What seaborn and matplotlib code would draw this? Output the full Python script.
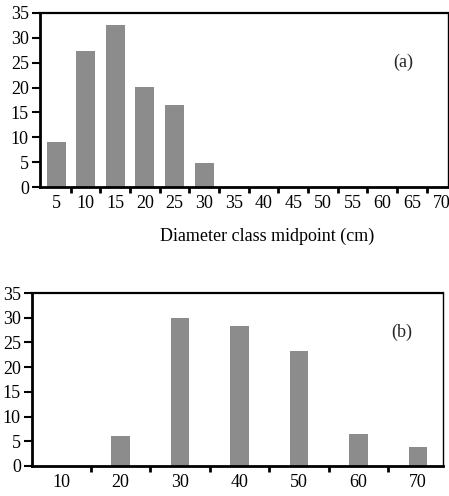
import matplotlib
matplotlib.use("Agg")
import matplotlib.pyplot as plt
import seaborn as sns
import numpy as np
import pandas as pd

# Data
classes_a = ["5", "10", "15", "20", "25", "30", "35", "40", "45", "50", "55", "60", "65", "70"]
values_a = [9, 27.4, 32.6, 20.1, 16.4, 4.8, 0, 0, 0, 0, 0, 0, 0, 0]
classes_b = ["10", "20", "30", "40", "50", "60", "70"]
values_b = [0, 6, 30, 28.3, 23.2, 6.5, 3.9]
yticks = [0, 5, 10, 15, 20, 25, 30, 35]
xlabel_a = "Diameter class midpoint (cm)"

sns.set_theme(style="ticks")
plt.rcParams['font.family'] = ['Liberation Serif', 'DejaVu Serif']

fig = plt.figure(figsize=(4.49, 4.96), dpi=100)
ax1 = fig.add_axes([40/449, 1-187/496, 408/449, 174/496])
ax2 = fig.add_axes([32/449, 1-466/496, 411/449, 173/496])

bar_color = "#8c8c8c"
df_a = pd.DataFrame({"cls": classes_a, "val": values_a})
df_b = pd.DataFrame({"cls": classes_b, "val": values_b})

sns.barplot(data=df_a, x="cls", y="val", order=classes_a, color=bar_color,
            width=0.64, saturation=1, ax=ax1, linewidth=0)
sns.barplot(data=df_b, x="cls", y="val", order=classes_b, color=bar_color,
            width=0.31, saturation=1, ax=ax2, linewidth=0)

fs = 13
for ax, n, xl in ((ax1, len(classes_a), (-0.54, 13.22)), (ax2, len(classes_b), (-0.49, 6.42))):
    ax.set_xlim(*xl)
    ax.set_ylim(0, 35)
    ax.set_yticks(yticks)
    ax.set_yticklabels([str(t) for t in yticks])
    ax.set_xticks(np.arange(0.5, n - 1, 1), minor=True)
    ax.tick_params(axis="y", which="major", length=6, width=1.5, labelsize=fs,
                   colors="black", pad=2, direction="out")
    ax.tick_params(axis="x", which="major", length=0, labelsize=fs, pad=6,
                   colors="black")
    ax.tick_params(axis="x", which="minor", length=4, width=2, direction="out",
                   colors="black")
    ax.set_ylabel("")
    ax.set_xlabel("")
    for s in ax.spines.values():
        s.set_visible(True)
        s.set_color("black")
    ax.spines["left"].set_linewidth(2)
    ax.spines["bottom"].set_linewidth(2)
    ax.spines["top"].set_linewidth(1.6)
    ax.spines["right"].set_linewidth(1)

ax1.set_xlabel(xlabel_a, fontsize=fs, color="black")
ax1.xaxis.set_label_coords(0.556, -0.236)
ax1.text(0.89, 0.718, "(a)", transform=ax1.transAxes, fontsize=fs, ha="center", va="center")
ax2.text(0.90, 0.775, "(b)", transform=ax2.transAxes, fontsize=fs, ha="center", va="center")

fig.savefig("out.png", dpi=100)
